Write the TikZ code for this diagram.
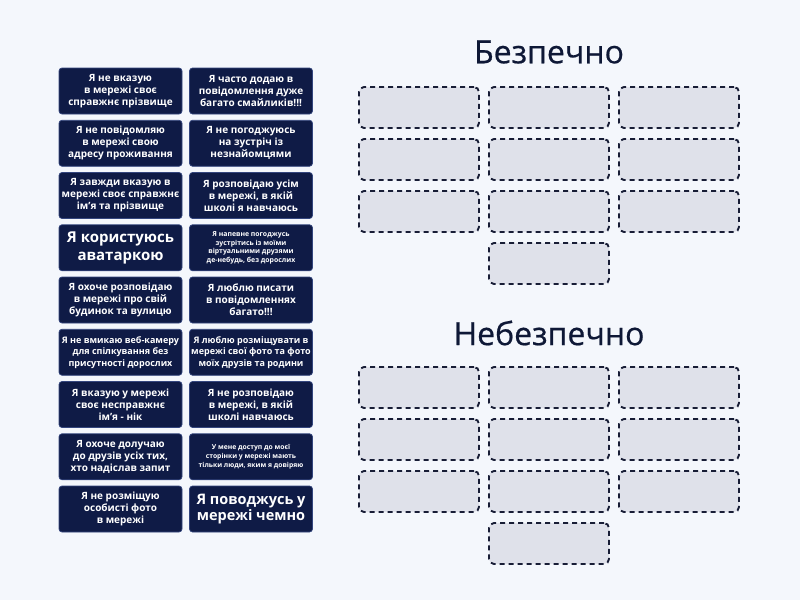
\documentclass[tikz,border=0pt]{standalone}
\usepackage{fontspec}
\setmainfont{Open Sans}
\newfontfamily\titlefont{Open Sans}[FakeBold=0.6]
\definecolor{bgc}{HTML}{F4F7FC}
\definecolor{cardc}{HTML}{0F1B46}
\definecolor{cardedge}{HTML}{34467E}
\definecolor{boxfill}{HTML}{DFE1EA}
\definecolor{boxedge}{HTML}{181D36}
\definecolor{titlec}{HTML}{0E1836}
\begin{document}
\begin{tikzpicture}[x=1pt,y=-1pt,
  card/.style={draw=cardedge,line width=0.7pt,fill=cardc,rounded corners=3pt,
    minimum width=123pt,minimum height=46pt,inner sep=1pt,text=white,
    align=center,font=\bfseries\fontsize{10}{12}\selectfont},
  cardbig/.style={card,font=\bfseries\fontsize{15}{17.5}\selectfont},
  cardmid/.style={card,font=\bfseries\fontsize{9}{11.5}\selectfont},
  cardsmall/.style={card,font=\bfseries\fontsize{6.9}{8.6}\selectfont},
  dropbox/.style={draw=boxedge,fill=boxfill,line width=1.9pt,dash pattern=on 5pt off 4pt,
    rounded corners=5pt,minimum width=120pt,minimum height=41pt,inner sep=0pt},
  titletext/.style={text=titlec,font=\titlefont\fontsize{32}{36}\selectfont,inner sep=0pt}]
\useasboundingbox[fill=bgc] (0,0) rectangle (800,600);
% cards
\node[card] (l0) at (120.5,91) {Я не вказую\\в мережі своє\\справжнє прізвище};
\node[card] (r0) at (251,91) {Я часто додаю в\\повідомлення дуже\\багато смайликів!!!};
\node[card] (l1) at (120.5,143.25) {Я не повідомляю\\в мережі свою\\адресу проживання};
\node[card] (r1) at (251,143.25) {Я не погоджуюсь\\на зустріч із\\незнайомцями};
\node[card] (l2) at (120.5,195.5) {Я завжди вказую в\\мережі своє справжнє\\ім'я та прізвище};
\node[card] (r2) at (251,195.5) {Я розповідаю усім\\в мережі, в якій\\школі я навчаюсь};
\node[cardbig] (l3) at (120.5,247.75) {Я користуюсь\\аватаркою};
\node[cardsmall] (r3) at (251,247.75) {Я напевне погоджусь\\зустрітись із моїми\\віртуальними друзями\\де-небудь, без дорослих};
\node[card] (l4) at (120.5,300) {Я охоче розповідаю\\в мережі про свій\\будинок та вулицю};
\node[card] (r4) at (251,300) {Я люблю писати\\в повідомленнях\\багато!!!};
\node[cardmid] (l5) at (120.5,352.25) {Я не вмикаю веб-камеру\\для спілкування без\\присутності дорослих};
\node[cardmid] (r5) at (251,352.25) {Я люблю розміщувати в\\мережі свої фото та фото\\моїх друзів та родини};
\node[card] (l6) at (120.5,404.5) {Я вказую у мережі\\своє несправжнє\\ім'я - нік};
\node[card] (r6) at (251,404.5) {Я не розповідаю\\в мережі, в якій\\школі навчаюсь};
\node[card] (l7) at (120.5,456.75) {Я охоче долучаю\\до друзів усіх тих,\\хто надіслав запит};
\node[cardsmall,font=\bfseries\fontsize{6.8}{8.6}\selectfont] (r7) at (251,456.75) {У мене доступ до моєї\\сторінки у мережі мають\\тільки люди, яким я довіряю};
\node[card] (l8) at (120.5,509) {Я не розміщую\\особисті фото\\в мережі};
\node[cardbig,font=\bfseries\fontsize{14.5}{16.5}\selectfont] (r8) at (251,509) {Я поводжусь у\\мережі чемно};
% titles
\node[titletext] (t1) at (549,52) {Безпечно};
\node[titletext] (t2) at (549,333) {Небезпечно};
% drop boxes: safe
\foreach \r/\y in {1/107.5,2/159.5,3/211.5}{
  \node[dropbox] (sa\r) at (419,\y) {};
  \node[dropbox] (sb\r) at (549,\y) {};
  \node[dropbox] (sc\r) at (679,\y) {};
}
\node[dropbox] (sb4) at (549,263.5) {};
% drop boxes: unsafe
\foreach \r/\y in {1/387.5,2/439.5,3/491.5}{
  \node[dropbox] (ua\r) at (419,\y) {};
  \node[dropbox] (ub\r) at (549,\y) {};
  \node[dropbox] (uc\r) at (679,\y) {};
}
\node[dropbox] (ub4) at (549,543.5) {};
\end{tikzpicture}
\end{document}
